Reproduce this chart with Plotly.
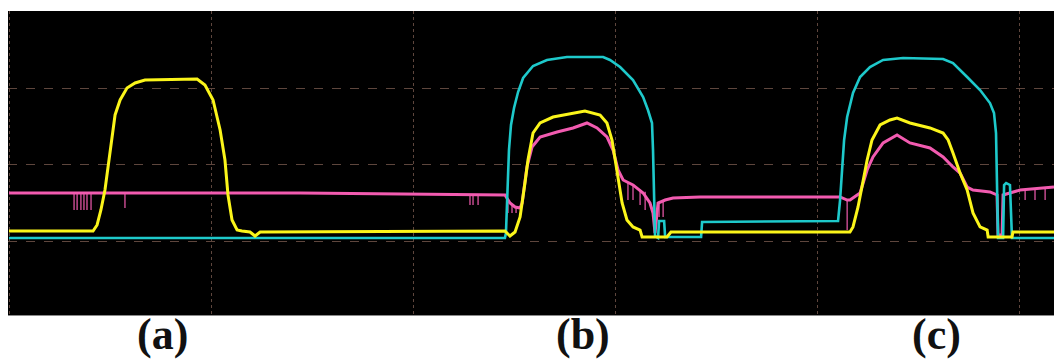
import plotly.graph_objects as go

# Oscilloscope capture: time in divisions, amplitude in divisions
cyan_t = [0, 2.455, 2.460, 2.465, 2.475, 2.485, 2.500, 2.520, 2.545, 2.594, 2.663, 2.762,
          2.941, 2.975, 3.025, 3.089, 3.139, 3.163, 3.183, 3.188, 3.193, 3.198, 3.213,
          3.218, 3.243, 3.248, 3.426, 3.431, 4.104, 4.114, 4.124, 4.134, 4.149, 4.178,
          4.213, 4.262, 4.327, 4.426, 4.624, 4.673, 4.743, 4.807, 4.856, 4.876, 4.886,
          4.891, 4.896, 4.921, 4.926, 4.936, 4.955, 4.965, 5.173]
cyan_v = [1.046, 1.046, 1.111, 1.542, 2.196, 2.523, 2.745, 2.954, 3.137, 3.294, 3.373, 3.412,
          3.412, 3.373, 3.281, 3.111, 2.889, 2.719, 2.549, 2.196, 1.320, 1.072, 1.046,
          1.268, 1.268, 1.059, 1.059, 1.255, 1.268, 1.542, 1.935, 2.327, 2.627, 2.941,
          3.150, 3.281, 3.373, 3.399, 3.386, 3.333, 3.150, 2.980, 2.810, 2.680, 2.418,
          1.765, 1.046, 1.046, 1.739, 1.765, 1.739, 1.046, 1.046]

yellow_t = [0, 0.416, 0.436, 0.455, 0.475, 0.500, 0.525, 0.550, 0.584, 0.624, 0.673, 0.931,
            0.970, 1.010, 1.045, 1.069, 1.084, 1.104, 1.129, 1.153, 1.193, 1.218, 1.243,
            2.455, 2.480, 2.505, 2.530, 2.554, 2.569, 2.594, 2.629, 2.693, 2.792, 2.851,
            2.926, 2.960, 2.985, 3.010, 3.035, 3.059, 3.089, 3.124, 3.134, 3.257, 3.277,
            4.163, 4.178, 4.203, 4.223, 4.248, 4.272, 4.312, 4.361, 4.396, 4.460, 4.559,
            4.624, 4.649, 4.673, 4.708, 4.743, 4.772, 4.807, 4.842, 4.847, 4.965, 4.970, 5.173]
yellow_v = [1.137, 1.137, 1.216, 1.412, 1.673, 2.196, 2.654, 2.850, 3.007, 3.072, 3.111, 3.124,
            3.046, 2.850, 2.458, 2.065, 1.608, 1.281, 1.150, 1.137, 1.124, 1.072, 1.124,
            1.137, 1.072, 1.124, 1.320, 1.765, 2.065, 2.418, 2.549, 2.627, 2.680, 2.706,
            2.654, 2.549, 2.327, 1.895, 1.503, 1.281, 1.190, 1.150, 1.059, 1.059, 1.124,
            1.124, 1.190, 1.451, 1.712, 2.065, 2.327, 2.523, 2.588, 2.614, 2.549, 2.484,
            2.418, 2.327, 2.157, 1.895, 1.673, 1.373, 1.190, 1.150, 1.059, 1.059, 1.124, 1.124]

pink_t = [0, 1.441, 2.455, 2.480, 2.505, 2.530, 2.540, 2.564, 2.589, 2.629, 2.713, 2.792,
          2.861, 2.911, 2.960, 2.990, 3.015, 3.040, 3.089, 3.139, 3.173, 3.188, 3.198,
          3.213, 3.248, 3.287, 3.421, 4.114, 4.149, 4.163, 4.213, 4.248, 4.277, 4.327,
          4.396, 4.460, 4.559, 4.624, 4.673, 4.708, 4.743, 4.772, 4.856, 4.891, 4.896,
          4.916, 4.921, 4.970, 5.005, 5.173]
pink_v = [1.634, 1.634, 1.608, 1.503, 1.451, 1.438, 1.503, 1.974, 2.235, 2.366, 2.431, 2.484,
          2.549, 2.484, 2.366, 2.196, 1.935, 1.804, 1.739, 1.634, 1.503, 1.373, 1.111,
          1.503, 1.542, 1.569, 1.582, 1.582, 1.542, 1.542, 1.634, 1.935, 2.105, 2.288,
          2.392, 2.288, 2.222, 2.105, 1.974, 1.895, 1.712, 1.673, 1.647, 1.608, 1.085,
          1.085, 1.608, 1.647, 1.673, 1.712]

# Glitches on the pink channel
glitch_t = [0.322, 0.337, 0.356, 0.371, 0.386, 0.406, 0.574, 2.282, 2.297, 2.322, 2.470,
            2.490, 2.510, 3.064, 3.089, 3.124, 3.149, 3.218, 3.238, 4.149, 5.030, 5.079, 5.129]
glitch_top = [1.634, 1.634, 1.634, 1.634, 1.634, 1.634, 1.634, 1.621, 1.621, 1.621, 1.52,
              1.48, 1.45, 1.77, 1.74, 1.68, 1.65, 1.52, 1.53, 1.55, 1.67, 1.68, 1.70]
glitch_bottom = [1.412, 1.412, 1.412, 1.412, 1.412, 1.412, 1.438, 1.477, 1.477, 1.477, 1.373,
                 1.373, 1.373, 1.542, 1.542, 1.477, 1.412, 1.320, 1.320, 1.150, 1.542, 1.542, 1.542]

labels = ["(a)", "(b)", "(c)"]
label_t = [0.76, 2.84, 4.59]

YELLOW = "#fbf51a"
CYAN = "#1ec9cb"
PINK = "#f25bb0"
GRID = "#5e463d"

gx, gy = [], []
for t, a, b in zip(glitch_t, glitch_top, glitch_bottom):
    gx += [t, t, None]
    gy += [a, b, None]

fig = go.Figure()
fig.add_trace(go.Scatter(x=pink_t, y=pink_v, mode="lines",
                         line=dict(color=PINK, width=3), hoverinfo="skip"))
fig.add_trace(go.Scatter(x=gx, y=gy, mode="lines",
                         line=dict(color=PINK, width=1.2), hoverinfo="skip"))
fig.add_trace(go.Scatter(x=cyan_t, y=cyan_v, mode="lines",
                         line=dict(color=CYAN, width=2.6), hoverinfo="skip"))
fig.add_trace(go.Scatter(x=yellow_t, y=yellow_v, mode="lines",
                         line=dict(color=YELLOW, width=3), hoverinfo="skip"))

for lab, t in zip(labels, label_t):
    fig.add_annotation(x=t, xref="x", y=0, yref="paper", yanchor="top", yshift=6,
                       text=f"<b>{lab}</b>", showarrow=False, borderpad=0,
                       font=dict(family="Liberation Serif", size=44, color="#111"))

fig.update_layout(
    width=1054, height=360,
    margin=dict(l=8, r=0, t=11, b=45),
    paper_bgcolor="white", plot_bgcolor="black",
    showlegend=False,
    xaxis=dict(range=[-0.005, 5.173], dtick=1, tick0=0, showgrid=True,
               gridcolor=GRID, griddash="dot", gridwidth=1, zeroline=False,
               showticklabels=False, ticks="", showline=True, linecolor="#8a8a8a",
               linewidth=1, mirror=False),
    yaxis=dict(range=[0.039, 4.013], dtick=1, tick0=0, showgrid=True,
               gridcolor=GRID, griddash="dash", gridwidth=1, zeroline=False,
               showticklabels=False, ticks="", showline=False),
)

fig.write_html("out.html")
